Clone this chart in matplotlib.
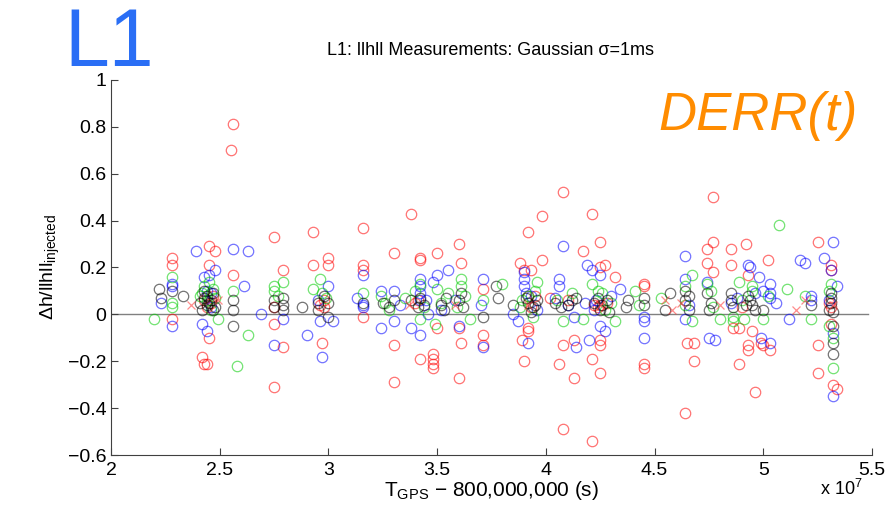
import matplotlib
matplotlib.use("Agg")
import matplotlib.pyplot as plt
import numpy as np

plt.rcParams["font.family"] = ["Liberation Sans", "DejaVu Sans"]
plt.rcParams["mathtext.fontset"] = "custom"
plt.rcParams["mathtext.rm"] = "Liberation Sans"
plt.rcParams["mathtext.it"] = "Liberation Sans:italic"

# T_GPS - 800,000,000 in units of 1e7 s, and relative amplitude error
red_t = [2.55, 2.56, 2.28, 2.28, 2.28, 2.45, 2.48, 2.45, 2.47, 2.45, 2.42, 2.43,
         2.44, 2.46, 2.44, 2.56, 2.75, 2.79, 2.75, 2.75, 2.79, 2.75, 2.93, 2.93,
         3.00, 3.00, 2.96, 2.98, 2.97, 3.16, 3.16, 3.16, 3.16, 3.38, 3.30, 3.42,
         3.42, 3.50, 3.60, 3.61, 3.30, 3.30, 3.42, 3.48, 3.48, 3.48, 3.48, 3.50,
         3.60, 3.61, 3.60, 3.71, 3.71, 3.71, 3.40, 4.08, 3.98, 3.92, 4.21, 4.25,
         4.17, 3.98, 3.88, 3.90, 3.93, 3.92, 3.92, 3.89, 3.90, 4.08, 4.13, 4.06,
         4.13, 4.25, 4.25, 4.21, 4.25, 4.27, 4.32, 4.08, 4.21, 3.93, 4.25, 4.25,
         4.45, 4.45, 4.45, 4.45, 4.77, 4.77, 4.74, 4.74, 4.77, 4.85, 4.85, 4.92,
         5.02, 4.65, 4.68, 4.68, 4.64, 4.89, 4.95, 4.93, 4.93, 4.89, 4.96, 4.86,
         4.99, 4.93, 5.03, 5.00, 5.25, 5.25, 5.25, 5.31, 5.31, 5.31, 5.32, 5.34,
         5.30, 4.10, 4.22, 3.95, 4.28, 4.02, 2.43, 2.98, 3.41, 3.92, 4.24, 4.90,
         5.31]
red_dh = [0.70, 0.81, 0.24, 0.21, -0.02, 0.29, 0.27, 0.21, 0.08, -0.10, -0.18,
          -0.21, -0.21, 0.05, 0.03, 0.17, 0.33, 0.19, 0.03, -0.04, -0.14, -0.31,
          0.35, 0.21, 0.24, 0.21, 0.04, 0.03, -0.12, 0.37, 0.21, 0.19, -0.01,
          0.43, 0.26, 0.24, 0.23, 0.26, 0.30, 0.22, -0.13, -0.29, -0.19, -0.17,
          -0.19, -0.21, -0.23, -0.06, -0.06, -0.12, -0.27, 0.11, -0.09, -0.13,
          0.05, 0.52, 0.42, 0.35, 0.43, 0.31, 0.27, 0.23, 0.22, 0.19, 0.19,
          -0.06, -0.07, -0.11, -0.20, -0.13, -0.11, -0.21, -0.27, -0.11, -0.13,
          -0.19, -0.25, 0.21, 0.16, -0.49, -0.54, 0.03, 0.20, 0.04, 0.13, 0.12,
          -0.21, -0.23, 0.50, 0.31, 0.28, 0.22, 0.18, 0.28, 0.21, 0.30, 0.23,
          -0.12, -0.12, -0.20, -0.42, -0.06, -0.07, -0.13, -0.15, -0.21, -0.33,
          -0.06, -0.12, 0.17, -0.15, -0.13, 0.31, -0.13, -0.25, 0.21, 0.19,
          -0.04, -0.30, -0.32, 0.05, 0.06, 0.04, 0.08, 0.05, 0.07, 0.06, 0.06,
          0.06, 0.08, 0.03, 0.03, 0.03]

blue_t = [2.23, 2.28, 2.28, 2.28, 2.39, 2.48, 2.43, 2.45, 2.42, 2.44, 2.56, 2.63,
          2.61, 2.69, 2.79, 2.75, 3.00, 2.96, 3.02, 2.90, 2.97, 3.16, 3.13, 3.16,
          3.16, 3.24, 3.24, 3.30, 3.30, 3.42, 3.42, 3.42, 3.42, 3.38, 3.42, 3.55,
          3.50, 3.48, 3.60, 3.71, 3.71, 3.46, 3.52, 4.08, 3.90, 3.90, 3.90, 3.92,
          4.06, 4.06, 4.13, 4.14, 4.20, 4.19, 4.21, 4.25, 4.25, 4.27, 4.34, 3.85,
          3.87, 4.45, 4.45, 4.45, 4.64, 4.64, 4.64, 4.75, 4.78, 4.74, 4.93, 4.94,
          4.98, 4.85, 4.99, 5.03, 5.03, 5.17, 5.19, 5.32, 5.28, 5.31, 5.34, 5.12,
          5.00, 5.03, 5.06, 5.22, 5.22, 5.32, 5.32, 5.03, 2.46, 3.93, 4.23, 4.10,
          2.44, 2.46, 2.95, 3.33, 3.45, 3.58, 3.70, 3.91, 3.96, 4.04, 4.18, 4.22,
          4.30, 4.66, 4.88, 4.96, 5.30]
blue_dh = [0.05, 0.13, 0.12, -0.05, 0.27, 0.19, 0.16, 0.17, -0.04, -0.07, 0.28,
           0.27, 0.12, 0.00, -0.02, -0.13, 0.12, -0.03, -0.03, -0.09, -0.18,
           0.17, 0.07, 0.04, 0.03, 0.10, -0.06, 0.10, -0.03, 0.15, 0.12, 0.09,
           0.06, -0.06, -0.09, 0.19, 0.17, 0.14, -0.05, 0.15, -0.14, 0.00, 0.02,
           0.29, 0.18, 0.15, 0.12, -0.12, 0.15, 0.12, -0.01, -0.14, -0.11, 0.21,
           0.19, 0.17, -0.05, -0.07, 0.11, 0.00, -0.03, -0.01, -0.03, -0.10,
           0.15, -0.02, 0.25, -0.10, -0.11, 0.14, 0.21, 0.20, 0.16, 0.05, -0.10,
           0.13, 0.09, 0.23, 0.22, 0.31, 0.24, 0.19, 0.12, -0.02, 0.10, 0.07,
           0.05, 0.08, 0.06, -0.08, -0.35, -0.12, 0.09, 0.08, 0.06, 0.04,
           0.10, 0.03, 0.06, 0.04, 0.06, 0.06, 0.04, 0.09, 0.02, 0.07, 0.05,
           0.02, 0.08, 0.04, 0.07, 0.09, 0.06]

green_t = [2.20, 2.28, 2.28, 2.28, 2.45, 2.49, 2.56, 2.58, 2.63, 2.75, 2.75, 2.79,
           2.96, 2.93, 3.16, 2.99, 3.26, 3.28, 3.40, 3.42, 3.50, 3.52, 3.61, 3.61,
           3.71, 3.63, 3.65, 3.49, 3.35, 3.96, 4.08, 4.17, 3.94, 4.21, 4.32, 4.30,
           3.80, 3.88, 4.41, 4.43, 4.53, 4.67, 4.67, 4.64, 4.74, 4.86, 4.86, 4.89,
           4.77, 4.80, 5.07, 5.11, 5.00, 5.19, 5.22, 5.32, 5.32, 5.31, 5.02, 5.30,
           2.42, 2.47, 2.44, 3.92, 4.05, 4.26, 4.95, 4.91, 2.41, 2.43, 2.46, 2.48,
           2.77, 2.97, 3.24, 3.42, 3.44, 3.55, 3.59, 3.89, 3.95, 4.12, 4.24, 4.27,
           4.64, 4.76, 4.90, 4.95, 5.30]
green_dh = [-0.02, 0.16, 0.05, 0.03, 0.14, -0.02, 0.10, -0.22, -0.09, 0.12, 0.10,
            0.14, 0.15, 0.11, 0.09, 0.07, 0.05, 0.02, 0.10, -0.02, 0.11, 0.05,
            0.15, 0.12, 0.06, 0.08, -0.02, -0.04, 0.07, 0.14, -0.03, -0.02,
            -0.01, 0.13, -0.03, 0.05, 0.13, 0.03, 0.10, 0.04, 0.07, 0.17, -0.03,
            0.04, 0.13, -0.01, -0.03, 0.14, 0.03, -0.02, 0.38, 0.11, -0.02, 0.08,
            -0.02, -0.23, -0.10, 0.13, 0.08, -0.05, 0.09, 0.11, 0.06, 0.08, 0.06,
            0.09, 0.10, -0.02, 0.08, 0.12, 0.02, 0.07, 0.08, 0.09, 0.08, 0.13,
            0.03, 0.09, 0.03, 0.06, 0.10, 0.09, 0.10, 0.02, 0.12, 0.10, 0.06,
            0.12, 0.10]

black_t = [2.22, 2.23, 2.28, 2.33, 2.41, 2.43, 2.44, 2.46, 2.48, 2.42, 2.47, 2.56,
           2.56, 2.56, 2.75, 2.75, 2.79, 2.79, 2.79, 2.88, 2.95, 2.98, 3.00, 3.16,
           3.25, 3.30, 3.38, 3.41, 3.44, 3.52, 3.54, 3.60, 3.62, 3.71, 3.77, 3.78,
           3.85, 3.92, 3.94, 3.96, 4.04, 4.10, 4.14, 4.22, 4.25, 4.28, 4.37, 4.38,
           4.45, 4.45, 4.55, 4.57, 4.64, 4.64, 4.66, 4.74, 4.76, 4.85, 4.85, 4.92,
           4.94, 4.96, 5.00, 5.31, 5.31, 5.32, 5.32, 5.32, 5.30, 5.22, 2.44, 2.45,
           2.47, 2.43, 2.95, 3.00, 3.28, 3.42, 3.53, 3.61, 3.91, 3.93, 3.95, 4.07,
           4.12, 4.24, 4.26, 4.29, 4.66, 4.75, 4.86, 4.93, 4.95, 5.31, 5.32]
black_dh = [0.11, 0.07, 0.10, 0.08, 0.05, 0.07, 0.04, 0.06, 0.03, 0.02, 0.09,
            0.06, 0.02, -0.05, 0.06, 0.03, 0.07, 0.04, 0.02, 0.03, 0.05, 0.08,
            -0.01, 0.05, 0.05, 0.06, 0.06, 0.03, 0.04, 0.04, 0.07, 0.06, 0.03,
            -0.01, 0.12, 0.07, 0.04, 0.05, 0.03, 0.06, 0.05, 0.04, 0.07, 0.05,
            0.02, 0.06, 0.03, 0.06, 0.07, 0.04, 0.02, 0.09, 0.10, 0.06, 0.02,
            0.09, 0.05, 0.09, 0.06, 0.04, 0.06, 0.02, 0.02, 0.09, 0.05, -0.05,
            -0.12, -0.17, 0.02, 0.04, 0.08, 0.05, 0.02, 0.10, 0.02, 0.05, 0.03,
            0.07, 0.02, 0.09, 0.07, 0.01, 0.04, 0.03, 0.06, 0.07, 0.04, 0.01,
            0.08, 0.02, 0.03, 0.08, 0.04, 0.07, 0.01]

cross_t = [2.37, 2.49, 3.37, 3.58, 3.92, 4.25, 4.55, 4.58, 4.62, 4.80, 5.15, 5.19, 5.32]
cross_dh = [0.04, 0.06, 0.04, 0.04, 0.04, 0.04, 0.06, 0.02, 0.05, 0.04, 0.02, 0.06, 0.04]

fig = plt.figure(figsize=(8.88, 5.09), dpi=100)
ax = fig.add_axes([0.125, 0.106, 0.857, 0.737])

ax.plot([2, 5.48], [0, 0], color="#808080", linewidth=1.0, zorder=1)

ms = 7.5
mew = 0.9
for t, dh, c in [(red_t, red_dh, "#ff0000"), (blue_t, blue_dh, "#0000ff"),
                 (green_t, green_dh, "#00cc00"), (black_t, black_dh, "#000000")]:
    ax.plot(t, dh, "o", markerfacecolor="none", markeredgecolor=c, alpha=0.55,
            markersize=ms, markeredgewidth=mew, linestyle="none")
ax.plot(cross_t, cross_dh, "x", color="#ff4040", alpha=0.6, markersize=6,
        markeredgewidth=0.9, linestyle="none")

ax.set_xlim(2, 5.5)
ax.set_ylim(-0.6, 1)
ax.set_xticks([2, 2.5, 3, 3.5, 4, 4.5, 5, 5.5])
ax.set_xticklabels(["2", "2.5", "3", "3.5", "4", "4.5", "5", "5.5"])
ax.set_yticks([-0.6, -0.4, -0.2, 0, 0.2, 0.4, 0.6, 0.8, 1])
ax.set_yticklabels(["\u22120.6", "\u22120.4", "\u22120.2", "0", "0.2", "0.4", "0.6", "0.8", "1"])
ax.tick_params(direction="in", length=5, width=0.8, labelsize=14, colors="#404040",
               labelcolor="black")
ax.tick_params(axis="x", pad=5)
for side in ["top", "right"]:
    ax.spines[side].set_visible(False)
for side in ["left", "bottom"]:
    ax.spines[side].set_color("#404040")
    ax.spines[side].set_linewidth(0.8)

ax.set_ylabel(r"$\Delta$h/llhll$_{\rm injected}$", fontsize=14, labelpad=4)
ax.set_xlabel(r"T$_{\rm GPS}$ $-$ 800,000,000 (s)", fontsize=15, labelpad=0)
fig.text(0.923, 0.02, r"x 10$^7$", fontsize=13, ha="left", va="bottom")

fig.text(0.552, 0.9, "L1: llhll Measurements: Gaussian \u03c3=1ms", fontsize=13,
         ha="center", va="center")
fig.text(0.072, 0.87, "L1", fontsize=58, color="#2a6ef5", ha="left", va="baseline")
fig.text(0.966, 0.745, "DERR(t)", fontsize=38, color="#ff8c00", style="italic",
         ha="right", va="baseline")

fig.savefig("out.png", dpi=100)
